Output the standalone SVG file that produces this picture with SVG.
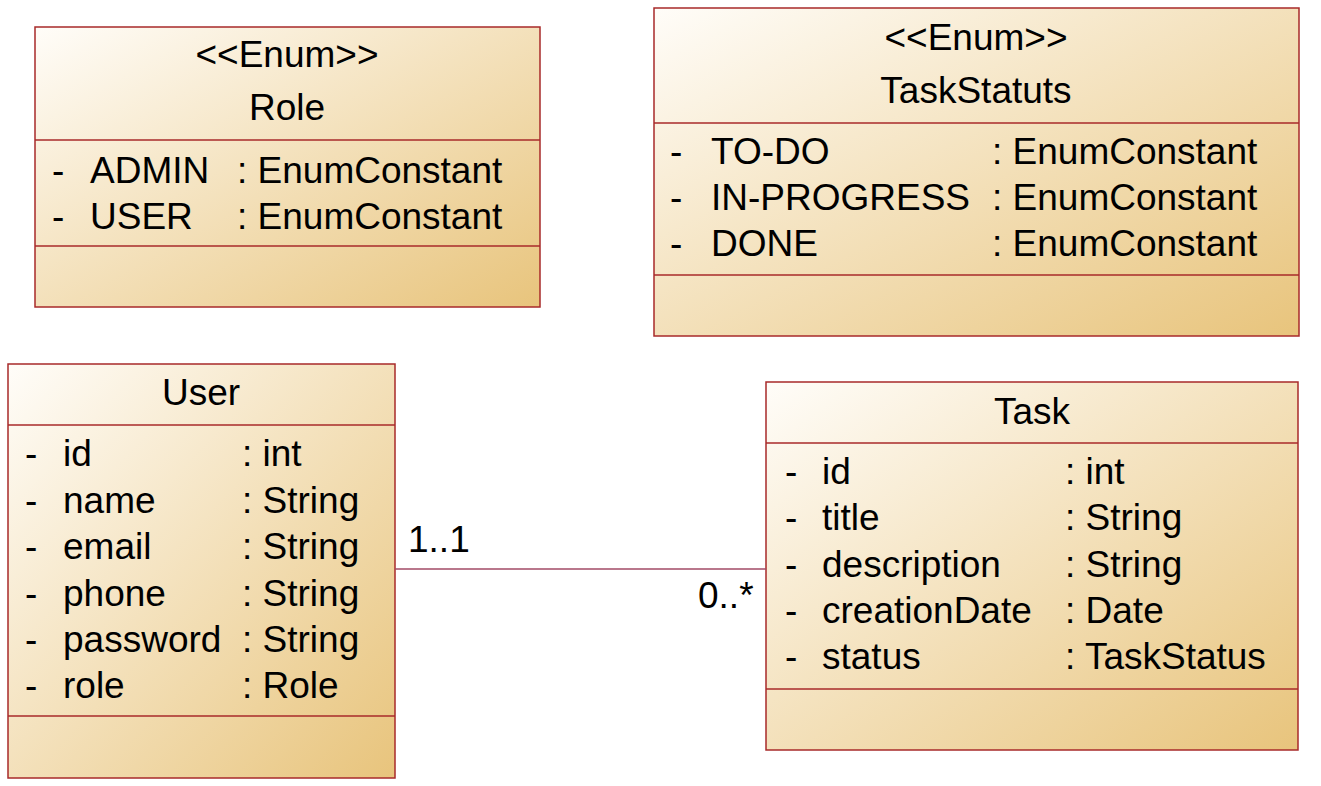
<svg xmlns="http://www.w3.org/2000/svg" width="1321" height="786" viewBox="0 0 1321 786">
<defs>
<linearGradient id="g" x1="0" y1="0" x2="1" y2="1">
<stop offset="0" stop-color="#fffdf9"/>
<stop offset="1" stop-color="#e8c47c"/>
</linearGradient>
</defs>
<style>
.box{fill:url(#g);stroke:#a82a2a;stroke-width:1.5}
.div{stroke:#a82a2a;stroke-width:1.5}
text{font-family:"Liberation Sans",Arial,sans-serif;font-size:37px;fill:#000}
.c{text-anchor:middle}
.conn{stroke:#a24a66;stroke-width:1.5;fill:none}
</style>
<rect width="1321" height="786" fill="#fff"/>
<g id="role">
<rect class="box" x="35" y="27" width="505" height="280"/>
<line class="div" x1="35" y1="140" x2="540" y2="140"/>
<line class="div" x1="35" y1="246" x2="540" y2="246"/>
<text class="c" x="287" y="67">&lt;&lt;Enum&gt;&gt;</text>
<text class="c" x="287" y="120">Role</text>
<text x="52" y="183">-</text><text x="90" y="183">ADMIN</text><text x="237" y="183">: EnumConstant</text>
<text x="52" y="229">-</text><text x="90" y="229">USER</text><text x="237" y="229">: EnumConstant</text>
</g>
<g id="taskstatuts">
<rect class="box" x="654" y="8" width="645" height="328"/>
<line class="div" x1="654" y1="123" x2="1299" y2="123"/>
<line class="div" x1="654" y1="275" x2="1299" y2="275"/>
<text class="c" x="976" y="50">&lt;&lt;Enum&gt;&gt;</text>
<text class="c" x="976" y="103">TaskStatuts</text>
<text x="670" y="164">-</text><text x="711" y="164">TO-DO</text><text x="992" y="164">: EnumConstant</text>
<text x="670" y="210">-</text><text x="711" y="210">IN-PROGRESS</text><text x="992" y="210">: EnumConstant</text>
<text x="670" y="256">-</text><text x="711" y="256">DONE</text><text x="992" y="256">: EnumConstant</text>
</g>
<g id="user">
<rect class="box" x="8" y="364" width="387" height="414"/>
<line class="div" x1="8" y1="425" x2="395" y2="425"/>
<line class="div" x1="8" y1="716" x2="395" y2="716"/>
<text class="c" x="201" y="405">User</text>
<text x="25" y="466">-</text><text x="63" y="466">id</text><text x="242" y="466">: int</text>
<text x="25" y="513">-</text><text x="63" y="513">name</text><text x="242" y="513">: String</text>
<text x="25" y="559">-</text><text x="63" y="559">email</text><text x="242" y="559">: String</text>
<text x="25" y="606">-</text><text x="63" y="606">phone</text><text x="242" y="606">: String</text>
<text x="25" y="652">-</text><text x="63" y="652">password</text><text x="242" y="652">: String</text>
<text x="25" y="698">-</text><text x="63" y="698">role</text><text x="242" y="698">: Role</text>
</g>
<g id="task">
<rect class="box" x="766" y="382" width="532" height="368"/>
<line class="div" x1="766" y1="443" x2="1298" y2="443"/>
<line class="div" x1="766" y1="689" x2="1298" y2="689"/>
<text class="c" x="1032" y="424">Task</text>
<text x="785" y="484">-</text><text x="822" y="484">id</text><text x="1065" y="484">: int</text>
<text x="785" y="530">-</text><text x="822" y="530">title</text><text x="1065" y="530">: String</text>
<text x="785" y="577">-</text><text x="822" y="577">description</text><text x="1065" y="577">: String</text>
<text x="785" y="623">-</text><text x="822" y="623">creationDate</text><text x="1065" y="623">: Date</text>
<text x="785" y="669">-</text><text x="822" y="669">status</text><text x="1065" y="669">: TaskStatus</text>
</g>
<g id="connectors">
<line class="conn" x1="395" y1="569" x2="766" y2="569"/>
<text x="408" y="552">1..1</text>
<text x="698" y="608">0..*</text>
</g>
</svg>
